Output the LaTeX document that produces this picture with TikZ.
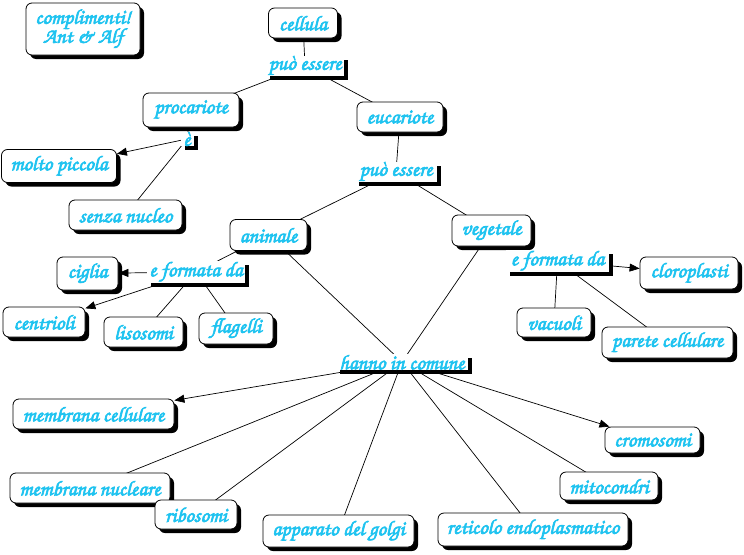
\documentclass[tikz,border=0pt]{standalone}
\usepackage[T1]{fontenc}
\usetikzlibrary{shadows,arrows.meta}
\definecolor{cmapcyan}{RGB}{30,195,240}
\pgfdeclarelayer{background}
\pgfsetlayers{background,main}
\tikzset{
  cfont/.style={font=\fontfamily{pzc}\fontseries{mb}\fontshape{it}\fontsize{21}{22}\selectfont\special{pdf:literal direct 2 Tr 0.65 w}, text=cmapcyan},
  blackshadow/.style={drop shadow={shadow xshift=4pt, shadow yshift=-4pt, fill=black, opacity=1}},
  concept/.style={cfont, draw=black, line width=0.8pt, fill=white, rounded corners=6pt, inner sep=0pt, blackshadow},
  linkph/.style={cfont, fill=white, inner sep=0pt, blackshadow},
  conn/.style={line width=0.7pt, draw=black},
  arr/.style={conn, -{Triangle[length=10pt,width=8pt]}},
}
\begin{document}
\begin{tikzpicture}[x=1pt,y=-1pt]
\useasboundingbox (0,0) rectangle (744,554);
% concepts
\node[concept, minimum width=114pt, minimum height=52pt, align=center] (compl) at (83,29) {complimenti!\\[-3pt]Ant \& Alf};
\node[concept, minimum width=69pt, minimum height=30pt] (cellula) at (303,23) {cellula};
\node[linkph, minimum width=78pt, minimum height=16pt] (pe1) at (305,66) {pu\`o essere};
\node[concept, minimum width=96pt, minimum height=34pt] (proc) at (191,110) {procariote};
\node[concept, minimum width=86pt, minimum height=30pt] (euc) at (400,117) {eucariote};
\node[linkph, minimum width=13pt, minimum height=13pt] (e1) at (187,139) {\`e};
\node[concept, minimum width=115pt, minimum height=33pt] (molto) at (59,166) {molto piccola};
\node[concept, minimum width=113pt, minimum height=30pt] (senza) at (125.5,215) {senza nucleo};
\node[linkph, minimum width=82pt, minimum height=17pt] (pe2) at (396,172) {pu\`o essere};
\node[concept, minimum width=77pt, minimum height=31pt] (anim) at (268.5,235) {animale};
\node[concept, minimum width=79pt, minimum height=31pt] (veg) at (491.5,230.5) {vegetale};
\node[linkph, minimum width=98pt, minimum height=18pt] (efa) at (196,272) {e formata da};
\node[concept, minimum width=61pt, minimum height=33pt] (ciglia) at (87.5,273.5) {ciglia};
\node[concept, minimum width=82pt, minimum height=30pt] (centr) at (44,322) {centrioli};
\node[concept, minimum width=79pt, minimum height=30pt] (liso) at (143.5,332) {lisosomi};
\node[concept, minimum width=74pt, minimum height=31pt] (flag) at (236,328.5) {flagelli};
\node[linkph, minimum width=103pt, minimum height=18pt] (efv) at (557.5,261) {e formata da};
\node[concept, minimum width=98pt, minimum height=32pt] (clor) at (689,273) {cloroplasti};
\node[concept, minimum width=74pt, minimum height=29pt] (vacu) at (554,322.5) {vacuoli};
\node[concept, minimum width=131pt, minimum height=31pt] (parete) at (667.5,342.5) {parete cellulare};
\node[linkph, minimum width=132pt, minimum height=16pt] (hanno) at (402,362) {hanno in comune};
\node[concept, minimum width=161pt, minimum height=30pt] (memc) at (93.5,414) {membrana cellulare};
\node[concept, minimum width=160pt, minimum height=30pt] (memn) at (90,488) {membrana nucleare};
\node[concept, minimum width=82pt, minimum height=29pt] (ribo) at (196,514.5) {ribosomi};
\node[concept, minimum width=151pt, minimum height=32pt] (golgi) at (338.5,531) {apparato del golgi};
\node[concept, minimum width=190pt, minimum height=33pt] (ret) at (533,529.5) {reticolo endoplasmatico};
\node[concept, minimum width=98pt, minimum height=28pt] (mito) at (609,486) {mitocondri};
\node[concept, minimum width=95pt, minimum height=26pt] (crom) at (652.5,440) {cromosomi};
% connectors
\begin{pgfonlayer}{background}
\draw[conn] (cellula.center) -- (pe1.center);
\draw[conn] (pe1.center) -- (proc.center);
\draw[conn] (pe1.center) -- (euc.center);
\draw[conn] (proc.center) -- (e1.center);
\draw[arr] (e1.center) -- (molto);
\draw[conn] (e1.center) -- (senza.center);
\draw[conn] (euc.center) -- (pe2.center);
\draw[conn] (pe2.center) -- (anim.center);
\draw[conn] (pe2.center) -- (veg.center);
\draw[conn] (anim.center) -- (efa.center);
\draw[arr] (efa.center) -- (ciglia);
\draw[arr] (efa.center) -- (centr);
\draw[conn] (efa.center) -- (liso.center);
\draw[conn] (efa.center) -- (flag.center);
\draw[conn] (anim.center) -- (hanno.center);
\draw[conn] (veg.center) -- (hanno.center);
\draw[arr] (efv.center) -- (clor);
\draw[conn] (efv.center) -- (vacu.center);
\draw[conn] (efv.center) -- (parete.center);
\draw[arr] (hanno.center) -- (memc);
\draw[conn] (hanno.center) -- (memn.center);
\draw[conn] (hanno.center) -- (ribo.center);
\draw[conn] (hanno.center) -- (golgi.center);
\draw[conn] (hanno.center) -- (ret.center);
\draw[conn] (hanno.center) -- (mito.center);
\draw[arr] (hanno.center) -- (crom);
\end{pgfonlayer}
\end{tikzpicture}
\end{document}
